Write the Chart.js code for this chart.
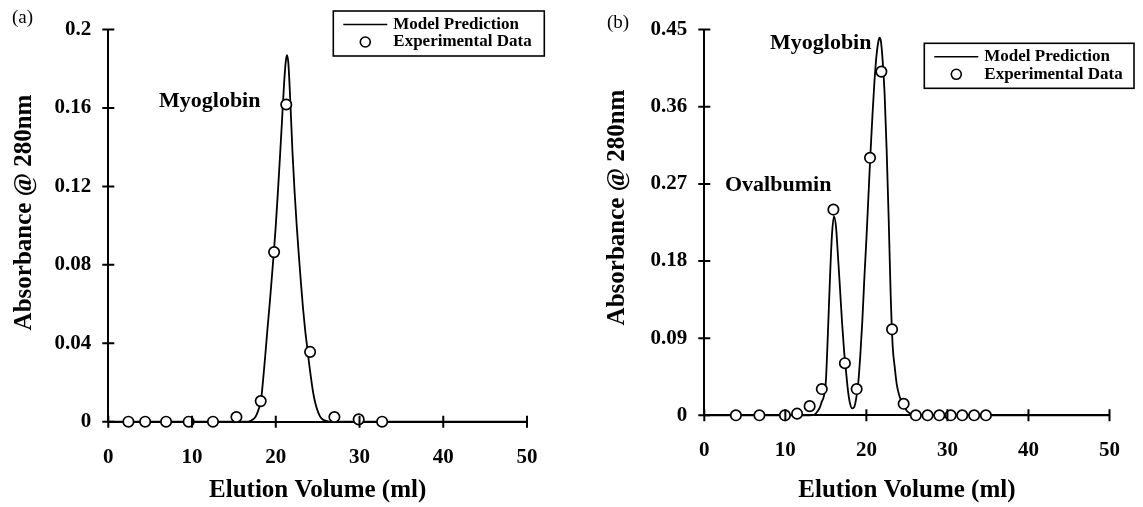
<!DOCTYPE html>
<html>
<head>
<meta charset="utf-8">
<script src="https://cdn.jsdelivr.net/npm/chart.js@4.4.1/dist/chart.umd.min.js"></script>
<style>
  html, body { margin: 0; padding: 0; background: #fff; }
  #wrap { position: relative; width: 1143px; height: 507px; }
  .pane { position: absolute; top: 0; height: 507px; }
  #paneA { left: 0; width: 571px; }
  #paneB { left: 571px; width: 572px; }
</style>
</head>
<body>
<div id="wrap">
  <div class="pane" id="paneA"><canvas id="chartA" width="571" height="507"></canvas></div>
  <div class="pane" id="paneB"><canvas id="chartB" width="572" height="507"></canvas></div>
</div>
<script>
const xTicks = [0, 10, 20, 30, 40, 50];
const yTicksA = [0, 0.04, 0.08, 0.12, 0.16, 0.2];
const yLabelsA = ['0', '0.04', '0.08', '0.12', '0.16', '0.2'];
const yTicksB = [0, 0.09, 0.18, 0.27, 0.36, 0.45];
const yLabelsB = ['0', '0.09', '0.18', '0.27', '0.36', '0.45'];

// (a) myoglobin alone
const expVolA = [2.4, 4.4, 6.9, 9.6, 12.5, 15.3, 18.2, 19.8, 21.25, 24.1, 27.0, 29.9, 32.7];
const expAbsA = [0, 0, 0, 0, 0, 0.0024, 0.0105, 0.0865, 0.1618, 0.0356, 0.0024, 0.0012, 0];
const modelVolA = [0, 16.5, 17, 17.5, 17.75, 18, 18.25, 18.5, 18.75, 19, 19.25, 19.5, 19.75, 20, 20.25, 20.5, 20.75, 21, 21.2, 21.33,
  21.5, 21.75, 22, 22.25, 22.5, 22.75, 23, 23.25, 23.5, 23.75, 24, 24.25, 24.5, 24.75, 25, 25.25, 25.5, 26, 26.5, 50];
const modelAbsA = [0, 0, 0.0005, 0.002, 0.004, 0.007, 0.0115, 0.022, 0.034, 0.047, 0.059, 0.072, 0.0855, 0.1, 0.117, 0.135, 0.154, 0.173, 0.184, 0.187,
  0.183, 0.162, 0.137, 0.117, 0.1, 0.085, 0.071, 0.058, 0.047, 0.038, 0.029, 0.021, 0.014, 0.009, 0.0055, 0.003, 0.0015, 0.0004, 0, 0];

// (b) ovalbumin + myoglobin
const expVolB = [3.9, 6.8, 9.95, 11.45, 13.0, 14.5, 15.93, 17.35, 18.8, 20.45, 21.85, 23.17, 24.6, 26.1, 27.55, 29.0, 30.4, 31.83, 33.3, 34.75];
const expAbsB = [0, 0, 0, 0.0019, 0.0107, 0.0306, 0.24, 0.0608, 0.0306, 0.3004, 0.401, 0.1003, 0.0134, 0, 0, 0, 0, 0, 0, 0];
const modelVolB = [0, 13, 13.5, 13.75, 14, 14.25, 14.5, 14.75, 15, 15.25, 15.5, 15.75, 16, 16.25, 16.5, 16.75, 17, 17.25, 17.5, 17.75,
  18, 18.25, 18.5, 18.75, 19, 19.25, 19.5, 19.75, 20, 20.25, 20.5, 20.75, 21, 21.25, 21.5, 21.65, 21.8, 22, 22.25, 22.5,
  22.75, 23, 23.25, 23.5, 23.75, 24, 24.25, 24.5, 24.75, 25, 25.5, 26, 50];
const modelAbsB = [0, 0, 0.0005, 0.002, 0.005, 0.009, 0.016, 0.022, 0.04, 0.095, 0.158, 0.21, 0.232, 0.22, 0.185, 0.147, 0.108, 0.075, 0.05, 0.027,
  0.013, 0.008, 0.0095, 0.02, 0.038, 0.07, 0.11, 0.16, 0.205, 0.255, 0.305, 0.35, 0.39, 0.42, 0.437, 0.4405, 0.436, 0.415, 0.375, 0.31,
  0.23, 0.14, 0.08, 0.056, 0.036, 0.025, 0.018, 0.013, 0.009, 0.005, 0.0015, 0, 0];

const serif = "'Liberation Serif', 'Times New Roman', Times, serif";
const tickFont = { family: serif, size: 21, weight: 'bold' };
const titleFont = { family: serif, size: 25, weight: 'bold' };

// crossing tick marks, notes, legend box, rotated y title
const decor = {
  id: 'decor',
  afterDraw(chart, args, o) {
    const ctx = chart.ctx;
    const xs = chart.scales.x, ys = chart.scales.y;
    const x0 = ys.right, y0 = xs.top;
    ctx.save();
    ctx.strokeStyle = '#000';
    ctx.lineWidth = 2;
    ctx.beginPath();
    xs.ticks.forEach(t => {
      const px = xs.getPixelForValue(t.value);
      ctx.moveTo(px, y0 - 6); ctx.lineTo(px, y0 + 6);
    });
    ys.ticks.forEach(t => {
      const py = ys.getPixelForValue(t.value);
      ctx.moveTo(x0 - 6, py); ctx.lineTo(x0 + 6, py);
    });
    ctx.stroke();

    ctx.fillStyle = '#000';
    ctx.font = '19px ' + serif;
    ctx.textAlign = 'left';
    ctx.textBaseline = 'middle';
    ctx.fillText(o.tag, o.tagX, o.tagY);

    ctx.font = 'bold 22px ' + serif;
    ctx.textBaseline = 'alphabetic';
    o.notes.forEach(n => ctx.fillText(n.text, n.x, n.y));

    const b = o.box;
    ctx.lineWidth = 1.6;
    ctx.strokeRect(b.x, b.y, b.w, b.h);
    ctx.beginPath();
    ctx.moveTo(b.x + 10, b.y + 13.5); ctx.lineTo(b.x + 54, b.y + 13.5);
    ctx.stroke();
    ctx.beginPath();
    ctx.arc(b.x + 32, b.y + 31, 5, 0, Math.PI * 2);
    ctx.fillStyle = '#fff';
    ctx.fill();
    ctx.stroke();
    ctx.fillStyle = '#000';
    ctx.font = 'bold 17px ' + serif;
    ctx.textBaseline = 'middle';
    ctx.fillText('Model Prediction', b.x + 60, b.y + 13.5);
    ctx.fillText('Experimental Data', b.x + 60, b.y + 31);

    ctx.translate(o.yTitleX, o.yTitleY);
    ctx.rotate(-Math.PI / 2);
    ctx.textAlign = 'center';
    ctx.font = 'bold 25px ' + serif;
    ctx.fillText('Absorbance @ 280nm', 0, 0);
    ctx.restore();
  }
};

function buildChart(id, p) {
  return new Chart(document.getElementById(id), {
    type: 'scatter',
    data: {
      datasets: [
        {
          label: 'Experimental Data',
          data: p.expVol.map((v, i) => ({ x: v, y: p.expAbs[i] })),
          showLine: false,
          pointRadius: 5.2,
          pointBorderWidth: 1.7,
          pointBackgroundColor: '#fff',
          pointBorderColor: '#000',
          clip: false,
          order: 1
        },
        {
          label: 'Model Prediction',
          data: p.modelVol.map((v, i) => ({ x: v, y: p.modelAbs[i] })),
          showLine: true,
          borderColor: '#000',
          borderWidth: 1.8,
          pointRadius: 0,
          cubicInterpolationMode: 'monotone',
          clip: false,
          order: 2
        }
      ]
    },
    options: {
      responsive: false,
      animation: false,
      events: [],
      layout: { padding: { left: 0, top: p.top, right: p.right, bottom: 0 } },
      plugins: {
        legend: { display: false },
        tooltip: { enabled: false },
        decor: p.decor
      },
      scales: {
        x: {
          type: 'linear',
          min: 0,
          max: 50,
          afterBuildTicks: s => { s.ticks = xTicks.map(v => ({ value: v })); },
          afterFit: s => { s.height = p.xHeight; },
          ticks: { padding: 23, font: tickFont, color: '#000', callback: v => String(v) },
          grid: { display: true, drawOnChartArea: false, drawTicks: false },
          border: { display: true, color: '#000', width: 2 },
          title: { display: true, text: 'Elution Volume (ml)', font: titleFont, color: '#000', padding: { top: 0, bottom: 1 } }
        },
        y: {
          type: 'linear',
          min: 0,
          max: p.yMax,
          afterBuildTicks: s => { s.ticks = p.yTicks.map(v => ({ value: v })); },
          afterFit: s => { s.width = p.yWidth; },
          ticks: { padding: 17, font: tickFont, color: '#000', callback: (v, i) => p.yLabels[i] },
          grid: { display: true, drawOnChartArea: false, drawTicks: false },
          border: { display: true, color: '#000', width: 2 }
        }
      }
    },
    plugins: [decor]
  });
}

buildChart('chartA', {
  expVol: expVolA, expAbs: expAbsA, modelVol: modelVolA, modelAbs: modelAbsA,
  yTicks: yTicksA, yLabels: yLabelsA, yMax: 0.2,
  top: 29.5, right: 44, yWidth: 108.3, xHeight: 85.3,
  decor: {
    tag: '(a)', tagX: 12, tagY: 18,
    notes: [{ text: 'Myoglobin', x: 159, y: 107 }],
    box: { x: 333.3, y: 11, w: 211, h: 45 },
    yTitleX: 24.5, yTitleY: 212.5
  }
});

buildChart('chartB', {
  expVol: expVolB, expAbs: expAbsB, modelVol: modelVolB, modelAbs: modelAbsB,
  yTicks: yTicksB, yLabels: yLabelsB, yMax: 0.45,
  top: 23.3, right: 17.3, yWidth: 133.3, xHeight: 91.7,
  decor: {
    tag: '(b)', tagX: 36, tagY: 23.3,
    notes: [{ text: 'Myoglobin', x: 199, y: 49 }, { text: 'Ovalbumin', x: 154, y: 191 }],
    box: { x: 353.3, y: 43.3, w: 209.7, h: 45 },
    yTitleX: 46.2, yTitleY: 207.5
  }
});
</script>
</body>
</html>
